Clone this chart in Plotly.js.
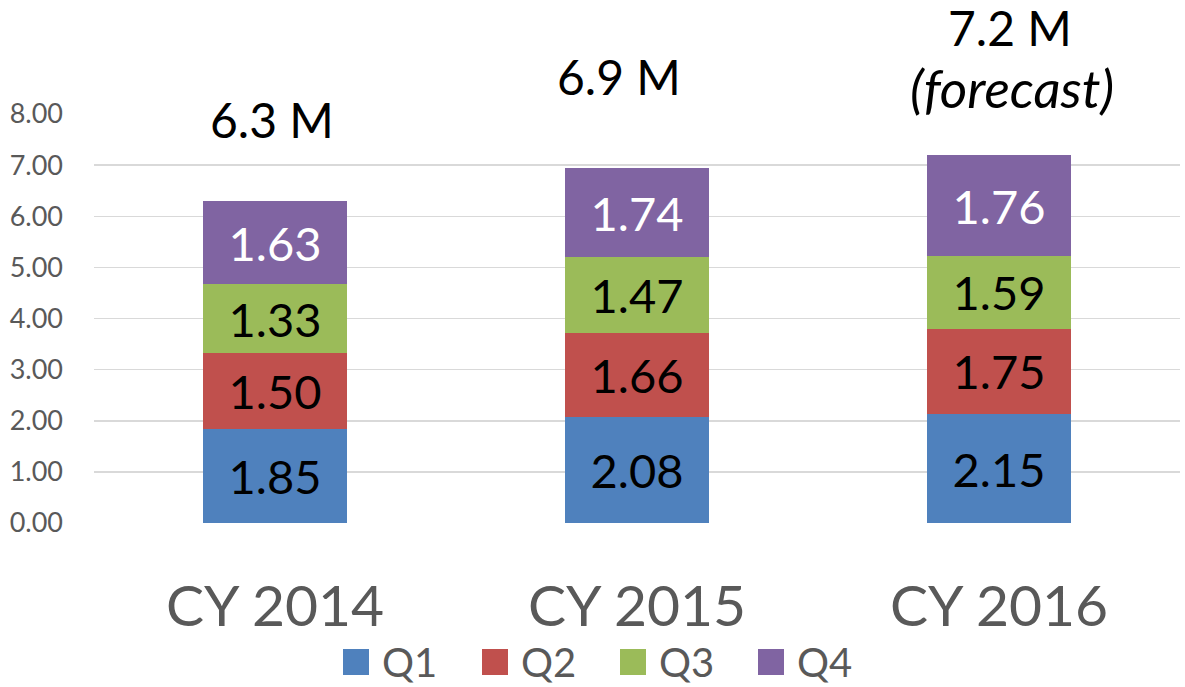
<!DOCTYPE html>
<html>
<head>
<meta charset="utf-8">
<script src="https://cdn.plot.ly/plotly-3.0.1.min.js"></script>
<style>html,body{margin:0;padding:0;background:#fff;}#chart{width:1185px;height:687px;}</style>
</head>
<body>
<div id="chart"></div>
<script>
var categories = ['CY 2014', 'CY 2015', 'CY 2016'];
var seriesNames = ['Q1', 'Q2', 'Q3', 'Q4'];
// segment heights as drawn in the picture
var q1 = [1.83, 2.07, 2.13];
var q2 = [1.50, 1.65, 1.67];
var q3 = [1.34, 1.48, 1.42];
var q4 = [1.63, 1.74, 1.98];
// value labels as printed on the segments
var q1Labels = ['1.85', '2.08', '2.15'];
var q2Labels = ['1.50', '1.66', '1.75'];
var q3Labels = ['1.33', '1.47', '1.59'];
var q4Labels = ['1.63', '1.74', '1.76'];
var totalLabels = ['6.3 M', '6.9 M', '7.2 M'];
var noteLabels = ['', '', '(forecast)'];
var yTicks = [0, 1, 2, 3, 4, 5, 6, 7, 8];

var colors = ['#4F81BD', '#C0504D', '#9BBB59', '#8064A2'];
var textColors = ['#000000', '#000000', '#000000', '#FFFFFF'];
var FONT = 'Lato, "Open Sans", sans-serif';
var series = [q1, q2, q3, q4];
var labels = [q1Labels, q2Labels, q3Labels, q4Labels];

var W = 1185, H = 687;
var margin = {l: 94, r: 5, t: 114, b: 164};
var plotW = W - margin.l - margin.r, plotH = H - margin.t - margin.b;
function pxX(px) { return (px - margin.l) / plotW; }
function pxY(py) { return (H - margin.b - py) / plotH; }

var traces = series.map(function (vals, i) {
  return {
    type: 'bar',
    name: seriesNames[i],
    x: categories,
    y: vals,
    text: labels[i],
    texttemplate: '%{text}',
    marker: {color: colors[i], line: {width: 0}},
    textposition: 'inside',
    insidetextanchor: 'middle',
    textangle: 0,
    textfont: {family: FONT, size: 47, color: textColors[i]},
    hoverinfo: 'x+y+name',
    showlegend: false
  };
});

var totals = categories.map(function (c, j) {
  return q1[j] + q2[j] + q3[j] + q4[j];
});

var annotations = [];
var totalShift = [51, 61, 97];
categories.forEach(function (c, j) {
  annotations.push({
    x: c, y: totals[j], xref: 'x', yref: 'y',
    text: totalLabels[j], showarrow: false,
    yanchor: 'bottom', yshift: totalShift[j], xshift: [-3, -18, 11][j],
    font: {family: FONT, size: 48, color: '#000000'}
  });
  if (noteLabels[j]) {
    annotations.push({
      x: c, y: totals[j], xref: 'x', yref: 'y',
      text: '<i>' + noteLabels[j] + '</i>', showarrow: false,
      yanchor: 'bottom', yshift: 34, xshift: 13,
      font: {family: FONT, size: 53, color: '#000000'}
    });
  }
});

var shapes = [];
var legendLeft = [343, 482, 620, 758];
seriesNames.forEach(function (n, i) {
  shapes.push({
    type: 'rect', xref: 'paper', yref: 'paper',
    x0: pxX(legendLeft[i]), x1: pxX(legendLeft[i] + 26),
    y0: pxY(675), y1: pxY(649),
    fillcolor: colors[i], line: {width: 0}
  });
  annotations.push({
    xref: 'paper', yref: 'paper', x: pxX(legendLeft[i] + 37), y: pxY(662),
    xanchor: 'left', yanchor: 'middle', showarrow: false, text: n,
    font: {family: FONT, size: 40, color: '#595959'}
  });
});

var layout = {
  width: W, height: H,
  margin: margin,
  paper_bgcolor: '#ffffff', plot_bgcolor: '#ffffff',
  barmode: 'stack',
  bargap: 0.6,
  showlegend: false,
  xaxis: {
    type: 'category',
    showgrid: false, zeroline: false, showline: false,
    ticks: '',
    tickfont: {family: FONT, size: 57, color: '#595959'},
    ticklabelstandoff: 45,
    fixedrange: true
  },
  yaxis: {
    range: [0, 8],
    tickvals: yTicks,
    tickformat: '.2f',
    showgrid: true, gridcolor: '#D9D9D9', gridwidth: 1.5,
    zeroline: false, showline: false,
    ticks: '',
    tickfont: {family: FONT, size: 27, color: '#595959'},
    ticklabelstandoff: 30,
    fixedrange: true
  },
  annotations: annotations,
  shapes: shapes
};

Plotly.newPlot('chart', traces, layout, {displayModeBar: false, staticPlot: true});
</script>
</body>
</html>
